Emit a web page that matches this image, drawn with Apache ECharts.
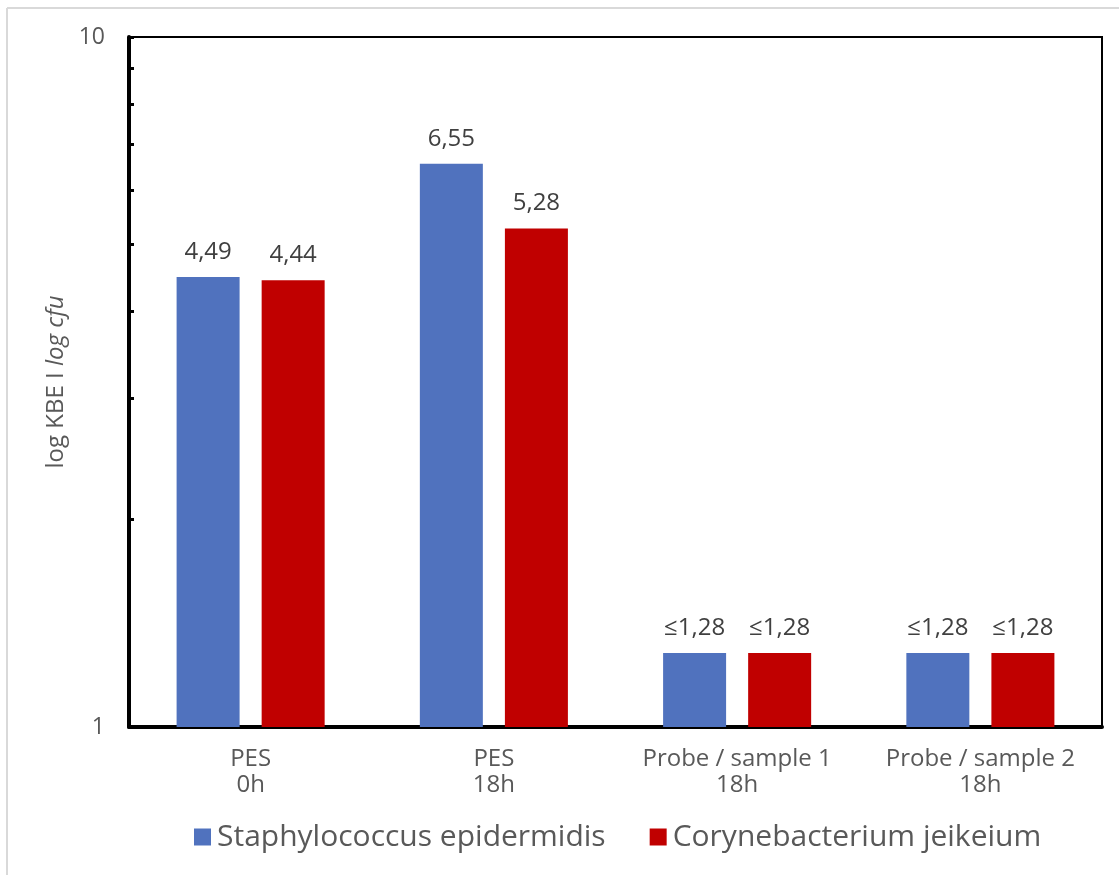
<!DOCTYPE html>
<html>
<head>
<meta charset="utf-8">
<script src="https://cdn.jsdelivr.net/npm/echarts@6/dist/echarts.min.js"></script>
<style>html,body{margin:0;padding:0;background:#fff;}#c{width:1119px;height:875px;}</style>
</head>
<body>
<div id="c"></div>
<script>
const categories = ['PES\n0h', 'PES\n18h', 'Probe / sample 1\n18h', 'Probe / sample 2\n18h'];
const seriesNames = ['Staphylococcus epidermidis', 'Corynebacterium jeikeium'];
const staphValues = [4.49, 6.55, 1.28, 1.28];
const coryneValues = [4.44, 5.28, 1.28, 1.28];
const labelPrefix = ['', '', '≤', '≤'];
const yTickLabels = [1, 10];
const yMinorTicks = [2, 3, 4, 5, 6, 7, 8, 9, 10];

const FONT = 'Open Sans';
const fmt = p => labelPrefix[p.dataIndex] + p.value.toFixed(2).replace('.', ',');

const chart = echarts.init(document.getElementById('c'), null, {renderer: 'canvas'});
chart.setOption({
  animation: false,
  backgroundColor: '#fff',
  textStyle: {fontFamily: FONT},
  graphic: [
    {type: 'line', shape: {x1: 7, y1: 8, x2: 1119, y2: 8}, style: {stroke: '#d9d9d9', lineWidth: 2}},
    {type: 'line', shape: {x1: 7, y1: 8, x2: 7, y2: 875}, style: {stroke: '#d9d9d9', lineWidth: 2}}
  ],
  grid: {left: 129, right: 17, top: 37, bottom: 148, show: true, borderColor: '#000', borderWidth: 2, containLabel: false},
  legend: {
    left: 189, top: 817,
    itemWidth: 17, itemHeight: 17, itemGap: 44,
    icon: 'rect',
    textStyle: {fontSize: 30, color: '#595959', fontFamily: FONT, padding: [0, 0, 0, 1]},
    data: seriesNames
  },
  xAxis: {
    type: 'category',
    data: categories,
    axisLine: {lineStyle: {color: '#000', width: 4}},
    axisTick: {show: false},
    axisLabel: {interval: 0, color: '#595959', fontSize: 24, lineHeight: 26, margin: 19, fontFamily: FONT}
  },
  yAxis: {
    type: 'log',
    logBase: 10,
    min: 1, max: 10,
    name: 'log KBE I {i|log cfu}',
    nameLocation: 'middle',
    nameGap: 60,
    nameTextStyle: {color: '#595959', fontSize: 24, fontFamily: FONT, rich: {i: {fontStyle: 'italic', fontSize: 24, color: '#595959', fontFamily: FONT}}},
    axisLine: {show: true, lineStyle: {color: '#000', width: 4}},
    axisTick: {show: true, inside: true, length: 5, lineStyle: {color: '#000', width: 3}, customValues: yMinorTicks},
    axisLabel: {color: '#595959', fontSize: 23, margin: 24, fontFamily: FONT, customValues: yTickLabels},
    splitLine: {show: false}
  },
  series: [
    {
      name: seriesNames[0], type: 'bar', data: staphValues,
      barWidth: 63, barGap: '35%',
      itemStyle: {color: '#5072BE'},
      label: {show: true, position: 'top', distance: 13, color: '#404040', fontSize: 24, fontFamily: FONT, formatter: fmt}
    },
    {
      name: seriesNames[1], type: 'bar', data: coryneValues,
      barWidth: 63, barGap: '35%',
      itemStyle: {color: '#C00000'},
      label: {show: true, position: 'top', distance: 13, color: '#404040', fontSize: 24, fontFamily: FONT, formatter: fmt}
    }
  ]
});
</script>
</body>
</html>
